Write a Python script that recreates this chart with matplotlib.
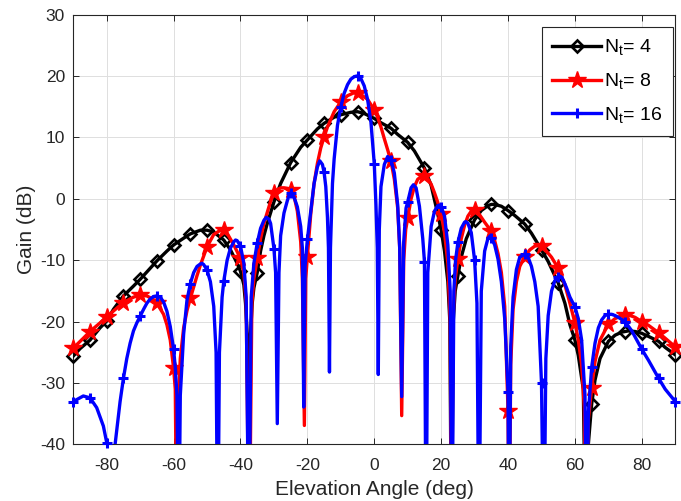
import numpy as np
import matplotlib
matplotlib.use("Agg")
import matplotlib.pyplot as plt

plt.rcParams['font.family'] = ['Liberation Sans', 'DejaVu Sans']
plt.rcParams['mathtext.fontset'] = 'custom'
plt.rcParams['mathtext.rm'] = 'Liberation Sans'
plt.rcParams['axes.unicode_minus'] = False

# ---------------- data ----------------
# N_t = 4
ang4 = [-90, -88, -85, -82, -80, -78, -75, -72, -70, -67, -65, -62, -60, -57, -55, -52, -50, -48,
        -45, -43, -41, -40, -39, -38.5, -38, -37.5, -37, -36.5, -36, -35, -34, -33, -32, -30, -28,
        -25, -22, -20, -17, -15, -12, -10, -7, -5, -3, 0, 2, 5, 7, 10, 12, 15, 17, 19, 20, 21, 22,
        22.6, 23.1, 23.6, 24.2, 25, 26, 27.5, 30, 32, 34, 35, 36, 38, 40, 42, 45, 47, 50, 52, 55,
        57, 58.5, 60, 61, 62.5, 63.3, 64, 65, 66, 67.5, 70, 72, 74, 75, 76, 78, 80, 82, 85, 87, 90]
gain4 = [-25.6, -24.4, -23.0, -21.0, -19.9, -18.0, -15.8, -14.2, -13.1, -11.3, -10.1, -8.5, -7.5,
         -6.4, -5.7, -5.1, -5.1, -5.4, -6.7, -8.3, -10.5, -11.8, -14.0, -17.0, -22.0, -60.0, -22.0,
         -17.0, -14.5, -12.0, -8.5, -6.0, -4.0, -0.5, 2.5, 5.9, 8.4, 9.6, 11.4, 12.3, 13.3, 13.7,
         14.1, 14.2, 13.9, 13.1, 12.4, 11.5, 10.5, 9.2, 7.8, 5.0, 2.2, -2.5, -5.1, -8.5, -13.5,
         -20.0, -60.0, -20.0, -15.0, -12.5, -9.5, -6.5, -3.4, -1.9, -1.1, -0.9, -0.9, -1.2, -1.9,
         -2.7, -4.1, -5.6, -8.3, -10.2, -13.7, -17.0, -20.5, -23.0, -25.5, -31.0, -60.0, -40.0,
         -33.4, -29.5, -26.0, -23.2, -22.2, -21.7, -21.6, -21.5, -21.6, -21.9, -22.4, -23.2,
         -24.2, -25.4]

# N_t = 8
ang8 = [-90, -87, -85, -82, -80, -77, -75, -72, -70, -68, -66, -65, -63, -62, -61, -60, -59.5,
        -59, -58.5, -58, -57, -56, -55, -53, -52, -50, -48, -46, -45, -44, -42, -40, -39, -38.3,
        -37.4, -36.6, -36, -35, -34, -33, -32, -31, -30, -29, -28, -27, -26, -25, -24, -23, -22,
        -21.5, -20.9, -20.5, -20, -19, -18, -17, -16, -15, -14, -12, -10, -8, -6, -5, -4, -2, 0,
        1, 2, 3, 4, 5, 6, 7, 7.6, 8.2, 8.8, 9.4, 10, 11, 12, 13, 14.5, 15, 16, 17, 18, 19, 20, 21,
        22, 22.7, 23.1, 23.5, 24.2, 25, 26, 27, 28, 29, 30, 31, 32, 33, 35, 36, 37, 38, 39, 40,
        40.3, 40.8, 41.5, 42.5, 43.5, 45, 46.5, 48, 49, 50, 51, 53, 55, 57, 58.5, 60, 61, 62, 62.8,
        63.3, 64, 65, 66, 67.5, 70, 72, 74, 75, 76, 78, 80, 82, 85, 87, 90]
gain8 = [-24.3, -22.7, -21.6, -20.2, -19.2, -17.8, -16.9, -16.0, -15.7, -15.8, -16.4, -17.0,
         -18.8, -20.5, -23.0, -27.6, -31.0, -60.0, -32.0, -26.0, -21.0, -18.2, -16.2, -12.5,
         -10.8, -7.8, -5.8, -5.1, -5.1, -5.6, -7.5, -9.7, -12.0, -17.0, -60.0, -17.0, -13.0,
         -9.7, -6.5, -4.0, -2.2, -0.4, 1.0, 1.5, 1.8, 1.8, 1.7, 1.5, 0.5, -2.0, -7.0, -13.0,
         -36.9, -13.0, -9.4, -2.5, 2.5, 5.8, 8.3, 10.1, 11.7, 14.2, 15.8, 16.8, 17.3, 17.2, 17.0,
         16.2, 14.5, 13.3, 11.7, 9.8, 8.0, 6.1, 3.2, -1.5, -8.0, -35.3, -10.0, -5.0, -3.1, 0.0,
         2.0, 3.2, 3.8, 3.7, 3.3, 2.4, 1.0, -0.6, -2.5, -5.5, -10.5, -20.0, -60.0, -20.0, -13.0,
         -9.8, -6.5, -4.3, -2.8, -2.0, -1.8, -2.2, -3.0, -3.8, -5.3, -6.8, -8.9, -12.0, -17.5,
         -34.6, -60.0, -27.0, -18.0, -13.5, -11.0, -9.4, -8.3, -7.7, -7.6, -7.7, -8.2, -9.5,
         -11.3, -14.0, -17.0, -20.2, -23.0, -27.0, -34.0, -60.0, -36.0, -30.8, -26.5, -23.0,
         -20.4, -19.5, -19.0, -18.9, -18.9, -19.3, -20.0, -20.6, -21.8, -22.7, -24.1]

# N_t = 16
ang16 = [-90, -87, -85, -83, -81, -80, -79, -78.5, -78, -77.5, -76, -75, -74, -73, -72, -71, -70,
         -69, -68, -67, -66, -65, -64, -63, -62, -61, -60, -59.5, -59, -58.5, -58, -57, -56, -55,
         -54, -53, -52, -51.5, -51, -50, -49, -48, -47.3, -46.8, -46.3, -45.5, -45, -44, -43, -42,
         -41.5, -41, -40, -39, -38.3, -37.5, -36.8, -36, -35, -34, -33, -32.3, -31.5, -31, -30,
         -29.5, -29, -28.5, -28, -27, -26, -25.3, -25, -24, -23, -22, -21.5, -21.1, -20.7, -20,
         -19, -18, -17, -16.3, -15.5, -15, -14.5, -14, -13.7, -13.4, -13.1, -12.5, -12, -11, -10,
         -9, -8, -7, -6, -5.3, -5, -4.5, -4, -3, -2, -1, 0, 0.5, 0.9, 1.2, 1.5, 2, 3, 4, 5, 6, 7,
         7.6, 8.2, 8.8, 9.5, 10, 11, 11.7, 12.5, 13.5, 14.5, 15, 15.5, 16, 17, 18, 19, 19.6, 20,
         21, 22, 22.7, 23.2, 23.8, 24.3, 25, 26, 27, 27.4, 28, 29, 30, 30.7, 31.3, 32, 33, 34,
         34.7, 35, 36, 37, 38, 39, 40, 40.3, 40.8, 41.5, 42.5, 43.5, 45, 46, 47, 48, 49, 50, 50.7,
         51.3, 52, 53, 54, 55, 55.7, 56.5, 57.5, 58.5, 60, 61, 62, 63, 63.5, 64, 65, 66, 67, 68,
         69, 70, 71, 72, 73, 75, 77, 80, 82, 85, 87, 90]
gain16 = [-33.0, -32.1, -32.4, -34.0, -37.0, -39.7, -45.0, -60.0, -45.0, -40.0, -33.0, -29.2,
          -26.0, -23.5, -21.5, -20.2, -19.1, -18.0, -17.0, -16.3, -15.9, -15.8, -16.0, -16.8,
          -18.3, -20.8, -24.5, -27.5, -32.0, -60.0, -32.0, -22.0, -16.5, -13.8, -12.0, -11.0,
          -10.6, -10.5, -10.7, -11.6, -13.5, -17.5, -25.0, -60.0, -25.0, -16.0, -13.4, -10.0,
          -8.0, -7.0, -6.7, -6.8, -7.7, -10.5, -16.0, -60.0, -16.0, -10.5, -7.2, -4.8, -3.5,
          -3.0, -3.3, -4.0, -8.1, -12.0, -36.6, -12.0, -6.0, -2.3, -0.3, 0.9, 0.9, 0.3, -1.3,
          -4.5, -8.0, -33.9, -11.0, -6.6, -2.0, 2.5, 5.2, 6.2, 5.6, 4.3, 2.0, -3.0, -8.0, -28.2,
          -8.0, 2.5, 6.5, 12.0, 15.0, 17.2, 18.6, 19.5, 19.9, 20.0, 20.0, 19.9, 19.6, 18.4, 16.2,
          12.5, 5.7, -1.0, -8.0, -28.6, -5.0, 2.0, 5.6, 6.9, 6.4, 4.2, -1.0, -8.0, -32.2, -7.0,
          -1.5, -0.5, 1.8, 2.3, 1.8, -1.2, -6.5, -10.2, -60.0, -12.0, -4.5, -2.0, -1.1, -1.0,
          -1.3, -2.8, -7.5, -15.0, -60.0, -15.0, -10.0, -7.1, -4.8, -3.8, -3.7, -4.0, -5.5,
          -10.0, -17.0, -60.0, -15.0, -8.5, -6.4, -6.0, -6.3, -7.5, -9.8, -13.5, -19.5, -31.4,
          -60.0, -24.0, -16.0, -11.5, -9.5, -9.0, -9.5, -11.0, -13.5, -17.5, -30.0, -60.0, -26.0,
          -19.0, -15.0, -13.3, -12.8, -12.6, -13.2, -14.5, -16.0, -17.6, -19.5, -23.0, -32.0,
          -60.0, -35.0, -27.4, -23.5, -21.0, -19.7, -19.0, -18.8, -18.8, -19.0, -19.3, -20.0,
          -21.5, -24.5, -26.3, -29.2, -31.0, -33.0]

labels = [r'N$_\mathregular{t}$= 4', r'N$_\mathregular{t}$= 8', r'N$_\mathregular{t}$= 16']
xticks = [-80, -60, -40, -20, 0, 20, 40, 60, 80]
yticks = [-40, -30, -20, -10, 0, 10, 20, 30]

# ---------------- figure ----------------
fig = plt.figure(figsize=(6.81, 5.01), dpi=100)
ax = fig.add_axes([0.1076, 0.1128, 0.8840, 0.8579])

series = [
    (ang4, gain4, 'black', 'D', dict(markersize=6, markerfacecolor='none', markeredgewidth=1.9)),
    (ang8, gain8, 'red', '*', dict(markersize=13, markerfacecolor='red', markeredgewidth=1.0)),
    (ang16, gain16, 'blue', '+', dict(markersize=7.5, markeredgewidth=2.2)),
]

handles = []
for i, (a, g, c, m, mk) in enumerate(series):
    a = np.asarray(a, float)
    g = np.asarray(g, float)
    mask = np.isclose(np.mod(a, 5.0), 0.0) | np.isclose(np.mod(a, 5.0), 5.0)
    ax.plot(a, g, color=c, lw=2.4, zorder=3 + 2 * i)
    ax.plot(a[mask], g[mask], linestyle='none', marker=m, color=c, zorder=4 + 2 * i,
            clip_on=False, **mk)
    h, = ax.plot([], [], color=c, lw=2.4, marker=m, **mk)
    handles.append(h)

ax.set_xlim(-90, 90)
ax.set_ylim(-40, 30)
ax.set_xticks(xticks)
ax.set_yticks(yticks)
ax.grid(True, color='#dedede', lw=0.7)
ax.set_axisbelow(True)
for s in ax.spines.values():
    s.set_color('#262626')
    s.set_linewidth(0.8)
ax.tick_params(direction='in', length=4, width=0.7, colors='#262626', labelsize=12.5,
               top=True, right=True)
ax.tick_params(axis='x', pad=9.5)
ax.tick_params(axis='y', pad=6)
ax.set_xlabel('Elevation Angle (deg)', fontsize=15, color='#262626', labelpad=5)
ax.set_ylabel('Gain (dB)', fontsize=15, color='#262626', labelpad=3)

leg = ax.legend(handles, labels, loc='upper right', bbox_to_anchor=(0.996, 0.972),
                fontsize=14, frameon=True, fancybox=False, framealpha=1,
                edgecolor='#262626', handlelength=2.5, handletextpad=0.15,
                borderpad=0.55, labelspacing=0.7, borderaxespad=0)
leg.get_frame().set_linewidth(0.8)

fig.savefig('out.png', dpi=100)
